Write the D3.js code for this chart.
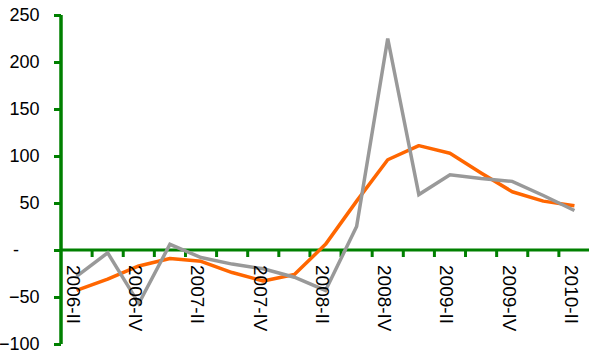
<!DOCTYPE html>
<html><head><meta charset="utf-8">
<script src="https://cdn.jsdelivr.net/npm/d3@7/dist/d3.min.js"></script>
<style>body{margin:0;background:#fff}svg{display:block}text{font-family:Arial,"Liberation Sans",sans-serif}</style>
</head><body><svg id="c" width="589" height="357"></svg>
<script>
const categories = ["2006-II","2006-III","2006-IV","2007-I","2007-II","2007-III","2007-IV","2008-I","2008-II","2008-III","2008-IV","2009-I","2009-II","2009-III","2009-IV","2010-I","2010-II"];
const orangeSeries = [-43,-31,-17,-9,-12,-24,-33,-26,6,52,96,111,103,82,62,52,47];
const graySeries = [-28,-3,-57,6,-8,-15,-20,-29,-43,25,225,59,80,76,73,58,42];
const yTicks = [-100,-50,0,50,100,150,200,250];
const xLabels = ["2006-II","2006-IV","2007-II","2007-IV","2008-II","2008-IV","2009-II","2009-IV","2010-II"];

const svg = d3.select("#c");
const x = d3.scaleBand().domain(categories).range([61,590]);
const y = d3.scaleLinear().domain([-100,250]).range([344,15]);
const green = "#008000";

// y axis
const yAxis = svg.append("g").attr("transform","translate(61,0)")
  .call(d3.axisLeft(y).tickValues(yTicks).tickSize(7).tickPadding(14.5)
    .tickFormat(d => d === 0 ? "-" : d3.format("d")(d)));
yAxis.select(".domain").attr("stroke",green).attr("stroke-width",3.5).attr("d","M0,15V344");
yAxis.selectAll(".tick line").attr("stroke",green).attr("stroke-width",3);
yAxis.selectAll(".tick text").attr("font-size",18).attr("fill","#000");
yAxis.selectAll(".tick text").filter(d => d === 0).attr("x",-42);

// x axis line at 0 with boundary ticks
const xg = svg.append("g");
xg.append("line").attr("x1",61).attr("x2",589).attr("y1",y(0)).attr("y2",y(0))
  .attr("stroke",green).attr("stroke-width",3);
xg.selectAll("line.t").data(categories.slice(1)).enter().append("line")
  .attr("x1",d=>x(d)).attr("x2",d=>x(d)).attr("y1",y(0)).attr("y2",y(0)+7)
  .attr("stroke",green).attr("stroke-width",3);

// lines
const line = d3.line().x((d,i)=>x(categories[i])+x.bandwidth()/2).y(d=>y(d));
svg.append("path").datum(orangeSeries).attr("d",line).attr("fill","none")
  .attr("stroke","#FF6600").attr("stroke-width",3.5).attr("stroke-linejoin","round");
svg.append("path").datum(graySeries).attr("d",line).attr("fill","none")
  .attr("stroke","#999999").attr("stroke-width",3.5).attr("stroke-linejoin","miter");

// x labels
svg.append("g").selectAll("text").data(xLabels).enter().append("text")
  .attr("transform",d=>`translate(${x(d)+x.bandwidth()/2-3},265) rotate(90)`)
  .attr("dy","0.35em").attr("font-size",19).attr("fill","#000").text(d=>d);
</script></body></html>
